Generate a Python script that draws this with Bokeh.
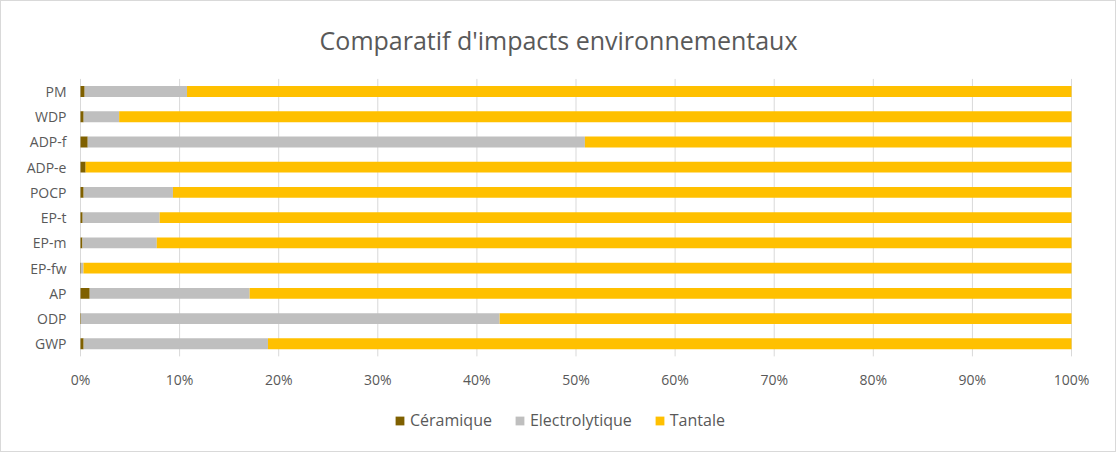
from bokeh.plotting import figure
from bokeh.models import (ColumnDataSource, Legend, LegendItem, NumeralTickFormatter,
                          FixedTicker, Range1d, Label)
from bokeh.embed import file_html
from bokeh.resources import INLINE

categories = ["GWP", "ODP", "AP", "EP-fw", "EP-m", "EP-t", "POCP", "ADP-e", "ADP-f", "WDP", "PM"]
ceramique = [0.32, 0.05, 0.93, 0.05, 0.2, 0.22, 0.32, 0.52, 0.73, 0.32, 0.42]
electrolytique = [18.6, 42.25, 16.14, 0.25, 7.5, 7.77, 9.01, 0.0, 50.17, 3.58, 10.33]
tantale = [100 - c - e for c, e in zip(ceramique, electrolytique)]
series = ["Céramique", "Electrolytique", "Tantale"]
colors = ["#7F6000", "#BFBFBF", "#FFC000"]
x_ticks = [0, 10, 20, 30, 40, 50, 60, 70, 80, 90, 100]
title = "Comparatif d'impacts environnementaux"

FONT = "Open Sans"
TXT = "#595959"

n = len(categories)
pos = list(range(n))
source = ColumnDataSource(dict(pos=pos, ceramique=[v / 100 for v in ceramique],
                               electrolytique=[v / 100 for v in electrolytique],
                               tantale=[v / 100 for v in tantale]))

p = figure(width=1116, height=452, y_range=Range1d(-4.35, n + 2.569),
           x_range=Range1d(-0.0797, 1.0464), output_backend="svg", toolbar_location=None,
           min_border_left=0, min_border_right=0, min_border_top=0, min_border_bottom=0)

# vertical gridlines limited to the bar area
xt = [t / 100 for t in x_ticks]
p.segment(x0=xt, x1=xt, y0=[-0.5] * len(xt), y1=[n - 0.5] * len(xt),
          line_color="#D9D9D9", line_width=1)

renderers = p.hbar_stack(["ceramique", "electrolytique", "tantale"], y="pos", height=0.43,
                         color=colors, source=source, line_width=0)

p.add_layout(Label(x=0.4824, y=n + 1.062, text=title, text_align="center",
                   text_baseline="middle", text_font=FONT, text_font_size="25px",
                   text_color=TXT))

p.xaxis.ticker = FixedTicker(ticks=xt)
p.xaxis.formatter = NumeralTickFormatter(format="0%")
p.xaxis.fixed_location = -0.5
p.yaxis.ticker = FixedTicker(ticks=pos)
p.yaxis.major_label_overrides = {i: c for i, c in zip(pos, categories)}
p.yaxis.fixed_location = 0
for ax in (p.xaxis[0], p.yaxis[0]):
    ax.axis_line_color = None
    ax.major_tick_line_color = None
    ax.minor_tick_line_color = None
    ax.major_tick_out = 0
    ax.major_tick_in = 0
    ax.major_label_text_font = FONT
    ax.major_label_text_font_size = "14px"
    ax.major_label_text_color = TXT
p.xaxis.major_label_standoff = 14
p.yaxis.major_label_standoff = 14

p.xgrid.grid_line_color = None
p.ygrid.grid_line_color = None
p.outline_line_color = None

legend = Legend(items=[LegendItem(label=s, renderers=[r]) for s, r in zip(series, renderers)],
                orientation="horizontal", location=(393, 22),
                label_text_font=FONT, label_text_font_size="16px", label_text_color=TXT,
                glyph_width=11, glyph_height=11, spacing=22, label_standoff=5, padding=5,
                margin=0, border_line_color=None, background_fill_alpha=0)
p.add_layout(legend, "center")

p.styles = {"border": "1px solid #D9D9D9", "box-sizing": "border-box"}

open("out.html", "w").write(file_html(p, INLINE))
